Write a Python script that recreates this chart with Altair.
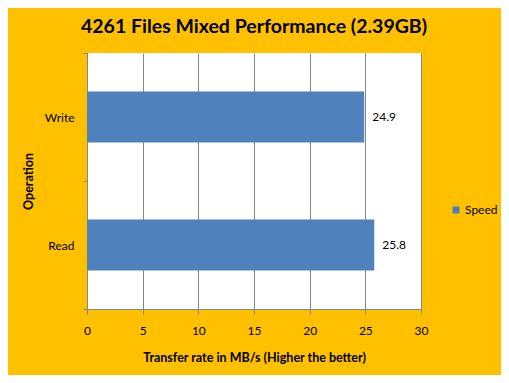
import altair as alt
import pandas as pd

operations = ["Write", "Read"]
speeds = [24.9, 25.8]
series = ["Speed", "Speed"]

df = pd.DataFrame({"Operation": operations, "Speed": speeds, "Series": series})

FONT = "Lato"
GRAY = "#868686"

base = alt.Chart(df).encode(
    y=alt.Y(
        "Operation:N",
        sort=operations,
        scale=alt.Scale(paddingInner=0, paddingOuter=0),
        axis=alt.Axis(
            title="Operation",
            titleFont=FONT,
            titleFontSize=12.5,
            titleFontWeight="bold",
            titleAngle=270,
            titleX=-59,
            titleY=128,
            titleAlign="center",
            titleBaseline="middle",
            labelFont=FONT,
            labelFontSize=12,
            labelColor="black",
            labelPadding=9,
            tickSize=4,
            tickColor=GRAY,
            tickBand="extent",
            domainColor=GRAY,
            grid=False,
        ),
    )
)

bars = base.mark_bar(color="#4F81BD", height=alt.RelativeBandSize(0.4)).encode(
    x=alt.X(
        "Speed:Q",
        scale=alt.Scale(domain=[0, 30], nice=False),
        axis=alt.Axis(
            values=[0, 5, 10, 15, 20, 25, 30],
            title="Transfer rate in MB/s (Higher the better)",
            titleFont=FONT,
            titleFontSize=12.5,
            titleFontWeight="bold",
            titleY=48,
            titleBaseline="middle",
            labelFont=FONT,
            labelFontSize=12,
            labelColor="black",
            labelPadding=11,
            labelFlush=False,
            tickSize=5,
            tickColor=GRAY,
            domainColor=GRAY,
            gridColor=GRAY,
            gridOpacity=1,
        ),
    ),
    color=alt.Color(
        "Series:N",
        scale=alt.Scale(range=["#4F81BD"]),
        legend=alt.Legend(
            title=None,
            orient="none",
            legendX=363,
            legendY=151,
            symbolType="square",
            symbolSize=49,
            symbolStrokeWidth=0,
            labelFont=FONT,
            labelFontSize=12,
            labelColor="black",
            labelOffset=3,
            padding=0,
        ),
    ),
)

labels = base.mark_text(align="left", dx=8, font=FONT, fontSize=12, color="black").encode(
    x="Speed:Q",
    text=alt.Text("Speed:Q", format=".1f"),
)

chart = (
    alt.layer(bars, labels)
    .properties(
        width=334,
        height=256,
        background="#FFC000",
        padding={"left": 79, "top": 45, "right": 80, "bottom": 66},
        autosize=alt.AutoSizeParams(type="none"),
        title=alt.TitleParams(
            "4261 Files Mixed Performance (2.39GB)",
            font=FONT,
            fontSize=19.5,
            fontWeight="bold",
            color="black",
            anchor="middle",
            offset=10,
        ),
    )
    .configure_view(fill="white", stroke=None)
)

chart.save("out.html", embed_options={"renderer": "svg", "actions": False})
